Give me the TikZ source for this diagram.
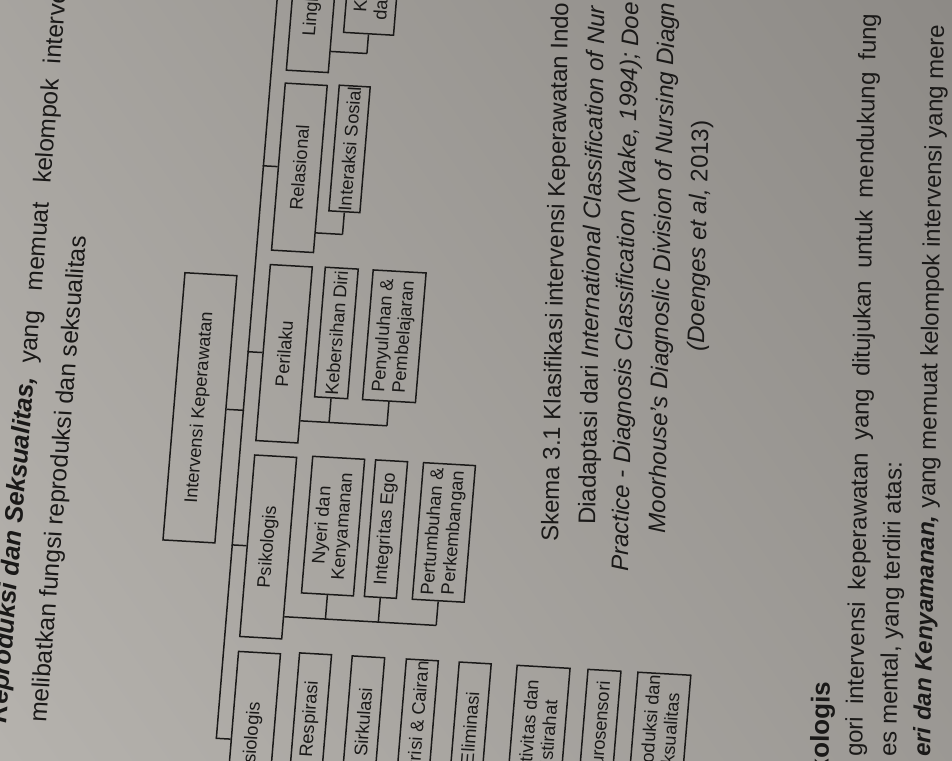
\documentclass[tikz,border=0pt]{standalone}
\usepackage{fontspec}
\setmainfont{Liberation Sans}
\usetikzlibrary{calc}
\definecolor{ink}{RGB}{26,25,24}
\definecolor{paperL}{RGB}{182,179,174}
\definecolor{paperD}{RGB}{140,137,133}
\begin{document}
\begin{tikzpicture}[x=1pt,y=1pt,
  tbox/.style={draw=ink, line width=1.5pt, inner sep=0pt, align=center, text=ink,
    font=\fontsize{18.3}{20.5}\selectfont},
  tline/.style={draw=ink, line width=1.5pt},
  body/.style={text=ink, inner sep=0pt, font=\fontsize{24.5}{28}\selectfont},
  capt/.style={text=ink, inner sep=0pt, anchor=base west, rotate=88.9, font=\fontsize{24}{28}\selectfont}]
\useasboundingbox (0,0) rectangle (952,760);
\clip (0,0) rectangle (952,760);
\shade[top color=paperD, bottom color=paperL, shading angle=-55] (-200,-200) rectangle (1152,960);

\begin{scope}[cm={0.082,0.997,-0.998,0.057,(0,0)}, every node/.append style={transform shape}]
  % text above the scheme
  \node[body, anchor=base west] (t1) at (37,-3) {{\fontsize{25.5}{28}\selectfont\textbf{\textit{Reproduksi dan Seksualitas,}}}\hspace{13pt}yang\hspace{20pt}memuat\hspace{19pt}kelompok\hspace{15pt}interve};
  \node[body, anchor=base west] (t2) at (40,-43) {melibatkan fungsi reproduksi dan seksualitas};

  % root
  \node[tbox, minimum width=268, minimum height=52] (root) at (363,-170.5) {Intervensi Keperawatan};
  % level 1
  \node[tbox, minimum width=176, minimum height=42] (fis) at (34,-250) {Fisiologis};
  \node[tbox, minimum width=182, minimum height=42] (psi) at (228,-250) {Psikologis};
  \node[tbox, minimum width=176.5, minimum height=42] (prl) at (421.75,-250) {Perilaku};
  \node[tbox, minimum width=167.5, minimum height=42] (rel) at (608.25,-250) {Relasional};
  \node[tbox, minimum width=165, minimum height=42] (lin) at (787.5,-250) {Lingkungan};
  % Fisiologis children
  \node[tbox, minimum width=131, minimum height=32] (res) at (58.5,-306) {Respirasi};
  \node[tbox, minimum width=131, minimum height=32.5] (sir) at (58.5,-359) {Sirkulasi};
  \node[tbox, minimum width=131, minimum height=32] (nut) at (58.5,-413) {Nutrisi \& Cairan};
  \node[tbox, minimum width=131, minimum height=32] (eli) at (58.5,-466) {Eliminasi};
  \node[tbox, minimum width=131, minimum height=53] (akt) at (58.5,-534.5) {Aktivitas dan\\Istirahat};
  \node[tbox, minimum width=131, minimum height=33] (neu) at (58.5,-595.5) {Neurosensori};
  \node[tbox, minimum width=131, minimum height=53] (rep) at (58.5,-655.5) {Reproduksi dan\\Seksualitas};
  % Psikologis children
  \node[tbox, minimum width=137, minimum height=52] (nye) at (252.5,-313) {Nyeri dan\\Kenyamanan};
  \node[tbox, minimum width=137, minimum height=32] (ego) at (252.5,-366) {Integritas Ego};
  \node[tbox, minimum width=137, minimum height=52] (tum) at (252.5,-424) {Pertumbuhan \&\\Perkembangan};
  % Perilaku children
  \node[tbox, minimum width=130, minimum height=33] (keb) at (445.5,-300.5) {Kebersihan Diri};
  \node[tbox, minimum width=130, minimum height=53] (pny) at (445.5,-358.5) {Penyuluhan \&\\Pembelajaran};
  % Relasional children
  \node[tbox, minimum width=126, minimum height=31] (ins) at (630,-298.5) {Interaksi Sosial};
  % Lingkungan children
  \node[tbox, minimum width=130, minimum height=50] (kea) at (811,-308) {Keamanan\\dan Proteksi};

  % bus
  \coordinate (busL) at (34,-214);
  \coordinate (busR) at (787.5,-214);
  \draw[tline] (busL) -- (busR);
  \draw[tline] (root.south) -- ++(0,-17.5);
  \foreach \n in {fis,psi,prl,rel,lin} \draw[tline] (\n.north) -- ++(0,15);

  % child connectors
  \draw[tline] ($(fis.south west)+(23,0)$) -- ($(rep.west)+(-24,0)$);
  \foreach \c in {res,sir,nut,eli,akt,neu,rep} \draw[tline] (\c.west) -- ++(-24,0);
  \draw[tline] ($(psi.south west)+(23,0)$) -- ($(tum.west)+(-24,0)$);
  \foreach \c in {nye,ego,tum} \draw[tline] (\c.west) -- ++(-24,0);
  \draw[tline] ($(prl.south west)+(23,0)$) -- ($(pny.west)+(-24,0)$);
  \foreach \c in {keb,pny} \draw[tline] (\c.west) -- ++(-24,0);
  \draw[tline] ($(rel.south west)+(20.5,0)$) -- ($(ins.west)+(-22,0)$);
  \draw[tline] (ins.west) -- ++(-22,0);
  \draw[tline] ($(lin.south west)+(22,0)$) -- ($(kea.west)+(-19,0)$);
  \draw[tline] (kea.west) -- ++(-19,0);
\end{scope}

% caption
\node[capt] (c1) at (558,218.3) {Skema 3.1 Klasifikasi intervensi Keperawatan Indo};
\node[capt] (c2) at (595,235) {Diadaptasi dari \textit{International Classification of Nur}};
\node[capt] (c3) at (628,188.3) {\textit{Practice - Diagnosis Classification (Wake, 1994); Doe}};
\node[capt] (c4) at (665,226.7) {\textit{Moorhouse's Diagnoslic Division of Nursing Diagn}};
\node[capt] (c5) at (704,408.3) {\textit{(Doenges et al,} 2013)};

% body text below
\node[capt, anchor=base east, font=\bfseries\fontsize{26}{28}\selectfont] (h1) at (830,78) {kologis};
\node[capt] (b1) at (862,3) {gori\hspace{12pt}intervensi\hspace{12pt}keperawatan\hspace{12pt}yang\hspace{12pt}ditujukan\hspace{12pt}untuk\hspace{12pt}mendukung\hspace{12pt}fung};
\node[capt] (b2) at (896,3) {es mental, yang terdiri atas:};
\node[capt] (b3) at (930,3) {\textbf{\textit{eri dan Kenyamanan,}} yang memuat kelompok intervensi yang mere};
\end{tikzpicture}
\end{document}
